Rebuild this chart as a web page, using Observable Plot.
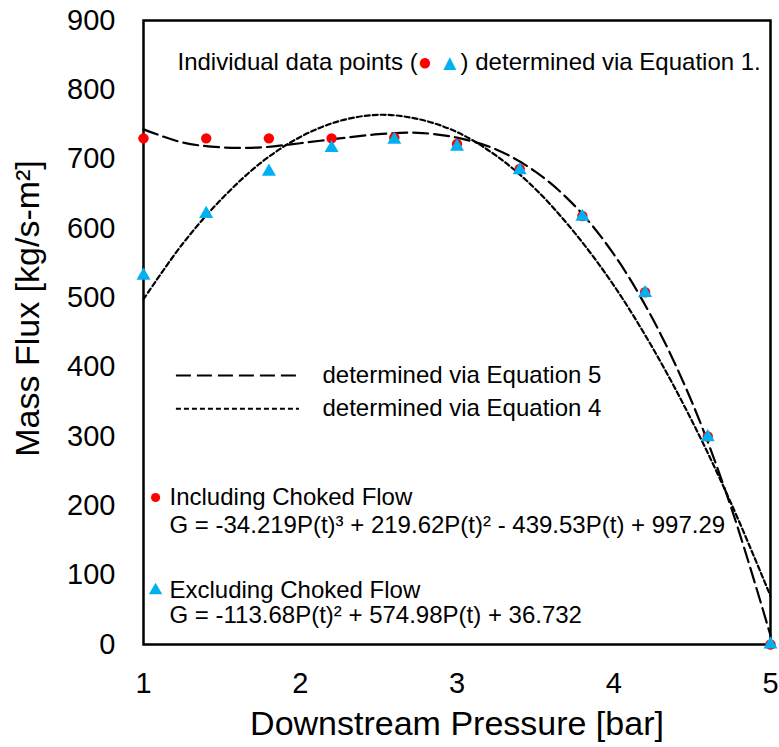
<!DOCTYPE html>
<html><head><meta charset="utf-8">
<script src="https://cdn.jsdelivr.net/npm/d3@7"></script>
<script src="https://cdn.jsdelivr.net/npm/@observablehq/plot@0.6"></script>
<style>body{margin:0;background:#fff}</style>
</head><body><div id="chart"></div>
<script>
// Data
const pressure = [1.0, 1.4, 1.8, 2.2, 2.6, 3.0, 3.4, 3.8, 4.2, 4.6, 5.0];
const fluxIncluding = [730, 730, 730, 730, 731, 722, 686, 618, 508, 300, 0];
const fluxExcluding = [532, 621, 682, 716, 728, 718, 684, 617, 507, 299, 0];

// Trend curves (Equation 5 = long dash, Equation 4 = short dash)
const curveP = [1.0, 1.25, 1.5, 1.75, 2.0, 2.25, 2.5, 2.75, 3.0, 3.25, 3.5, 3.75, 4.0, 4.25, 4.5, 4.75, 5.0];
const curveEq5 = [743, 724, 717, 717, 723, 730, 736, 738, 731, 714, 682, 633, 563, 469, 349, 197, 13];
const curveEq4 = [498, 578, 643, 695, 732, 755, 764, 758, 739, 705, 657, 594, 518, 427, 322, 203, 70];

const xTicks = [1, 2, 3, 4, 5];
const yTicks = [0, 100, 200, 300, 400, 500, 600, 700, 800, 900];

const xTitle = "Downstream Pressure [bar]";
const yTitle = "Mass Flux [kg/s-m²]";
const noteText = "Individual data points (● ▲) determined via Equation 1.";
const legendEq5 = "determined via Equation 5";
const legendEq4 = "determined via Equation 4";
const incLabel = "Including Choked Flow";
const incEq = "G = -34.219P(t)³ + 219.62P(t)² - 439.53P(t) + 997.29";
const excLabel = "Excluding Choked Flow";
const excEq = "G = -113.68P(t)² + 574.98P(t) + 36.732";

const RED = "#FF0000";
const BLUE = "#00B0F0";

const pts = pressure.map((p, i) => ({p, inc: fluxIncluding[i], exc: fluxExcluding[i]}));
const curves = curveP.map((p, i) => ({p, e5: curveEq5[i], e4: curveEq4[i]}));

const txt = (s, dx, dy, size) => Plot.text([s], {frameAnchor: "top-left", textAnchor: "start", lineAnchor: "middle", dx, dy, fontSize: size});

const chart = Plot.plot({
  width: 779,
  height: 747,
  marginLeft: 143,
  marginRight: 9,
  marginTop: 20,
  marginBottom: 103,
  style: {fontFamily: "'Liberation Sans', Arial, sans-serif", fontSize: "29px", color: "#000", background: "#fff"},
  x: {domain: [1, 5], ticks: xTicks, tickSize: 0, tickPadding: 28, label: null, tickFormat: d => String(d)},
  y: {domain: [0, 900], ticks: yTicks, tickSize: 0, tickPadding: 28, label: null, tickFormat: d => String(d)},
  marks: [
    Plot.frame({stroke: "#000", strokeWidth: 2.5}),
    Plot.line(curves, {x: "p", y: "e4", stroke: "#000", strokeWidth: 2.2, strokeDasharray: "5,3", curve: "catmull-rom"}),
    Plot.line(curves, {x: "p", y: "e5", stroke: "#000", strokeWidth: 2.2, strokeDasharray: "15,6", curve: "catmull-rom"}),
    Plot.dot(pts, {x: "p", y: "inc", r: 5.2, fill: RED, stroke: "none"}),
    Plot.dot(pts, {x: "p", y: "exc", r: 5.2, symbol: "triangle", fill: BLUE, stroke: "none"}),
    // annotation
    txt(noteText, 34, 42, 24),
    // legend for lines
    Plot.ruleY([388], {x1: 1.21, x2: 1.995, stroke: "#000", strokeWidth: 2.2, strokeDasharray: "15,6"}),
    Plot.ruleY([340], {x1: 1.21, x2: 1.995, stroke: "#000", strokeWidth: 2.2, strokeDasharray: "5,3"}),
    txt(legendEq5, 179, 355, 24),
    txt(legendEq4, 179, 388, 24),
    // legend for points
    Plot.dot([212], {x: 1.077, y: d => d, r: 4.6, fill: RED, stroke: "none"}),
    Plot.dot([78], {x: 1.077, y: d => d, r: 5, symbol: "triangle", fill: BLUE, stroke: "none"}),
    txt(incLabel, 26, 477, 24),
    txt(incEq, 26, 505, 24),
    txt(excLabel, 26, 570, 24),
    txt(excEq, 26, 595, 24),
    // axis titles
    Plot.text([xTitle], {frameAnchor: "bottom", textAnchor: "middle", lineAnchor: "middle", dy: 80, fontSize: 34}),
    Plot.text([yTitle], {frameAnchor: "left", textAnchor: "middle", lineAnchor: "middle", rotate: -90, dx: -115, dy: -24, fontSize: 34})
  ]
});

document.getElementById("chart").appendChild(chart);

// colour the marker glyphs inside the annotation
d3.select(chart).selectAll("text").each(function() {
  const t = d3.select(this);
  if (t.text() === noteText) {
    t.text("");
    t.append("tspan").text("Individual data points (");
    t.append("tspan").attr("fill", RED).attr("font-size", "24px").text("●");
    t.append("tspan").text(" ");
    t.append("tspan").attr("fill", BLUE).attr("font-size", "22px").text("▲");
    t.append("tspan").text(") determined via Equation 1.");
  }
});
</script>
</body></html>
